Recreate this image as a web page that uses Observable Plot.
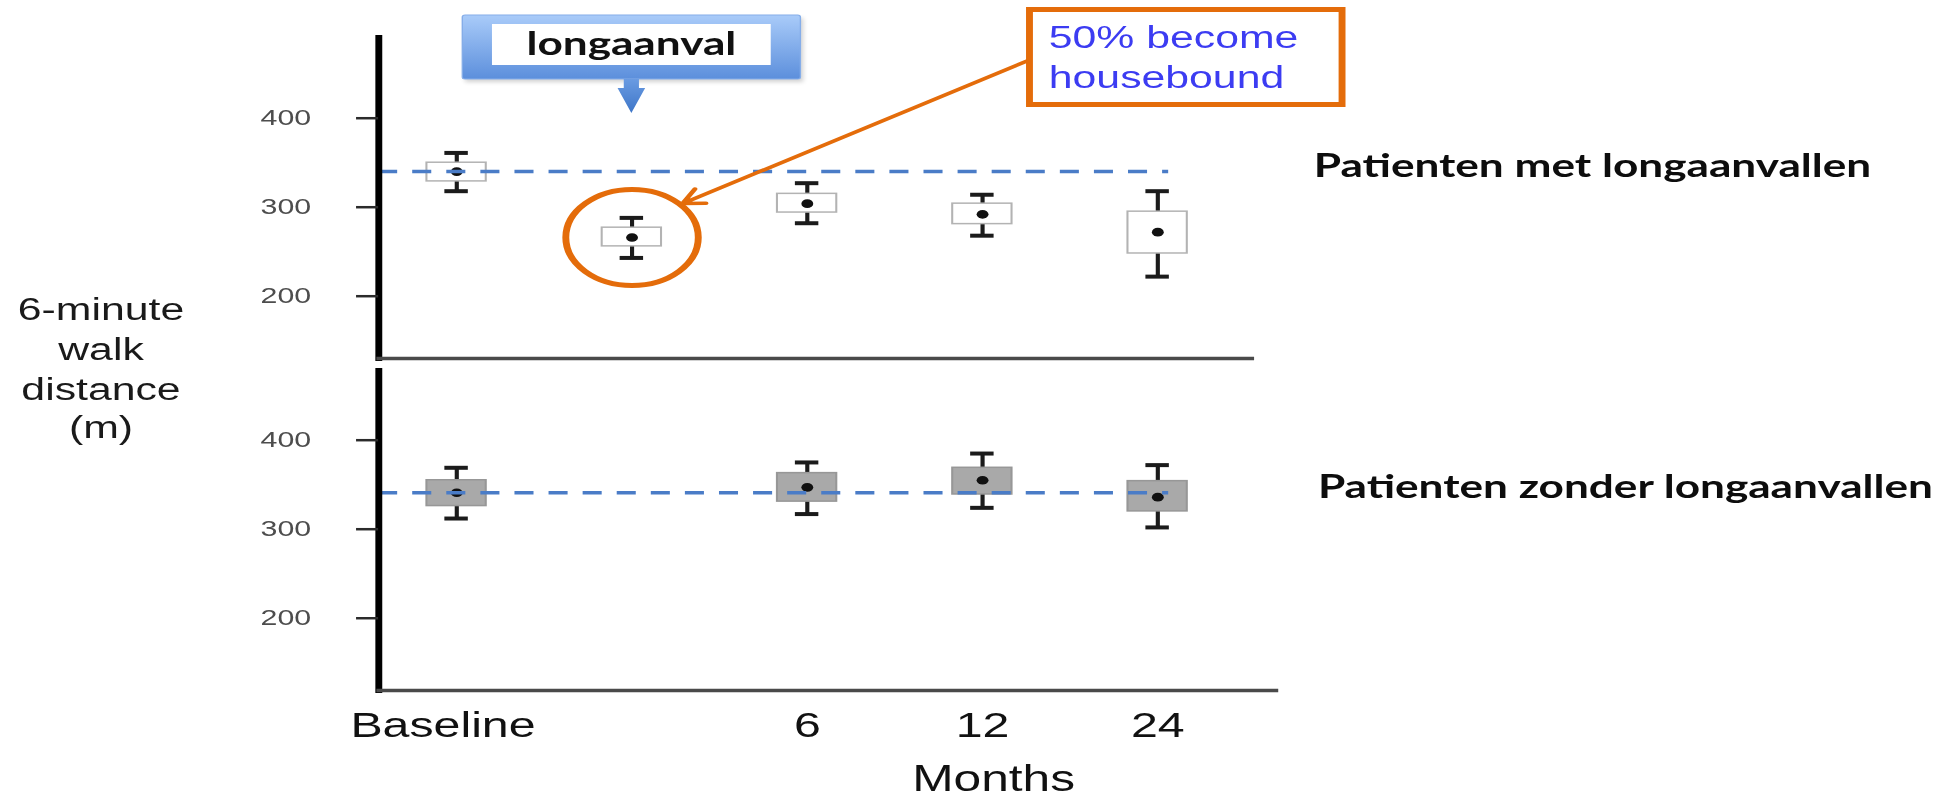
<!DOCTYPE html>
<html>
<head>
<meta charset="utf-8">
<title>6-minute walk distance</title>
<script src="https://cdn.jsdelivr.net/npm/d3@7"></script>
<script src="https://cdn.jsdelivr.net/npm/@observablehq/plot@0.6"></script>
<style>
  html, body { margin: 0; padding: 0; background: #fff; overflow: hidden; }
  /* the slide is laid out on a 1408px-wide canvas and widened to the window */
  #page { position: relative; width: 1408px; height: 797px; transform: scaleX(1.38); transform-origin: 0 0; }
  #page .layer { position: absolute; left: 0; width: 1408px; }
</style>
</head>
<body>
<div id="page"></div>
<script>
// Visits on the x axis; the slot between baseline and 6 months is the exacerbation visit.
const visits = ["Baseline", "longaanval", "6", "12", "24"];
const visitLabels = ["Baseline", "6", "12", "24"];
const yTicks = [200, 300, 400];

// Patients with exacerbations (upper panel), 6-minute walk distance in metres.
const metVisits = ["Baseline", "longaanval", "6", "12", "24"];
const metLow  = [318, 243, 282, 268, 222];
const metQ1   = [329, 256, 294, 281, 248];
const metMean = [340, 266, 304, 292, 272];
const metQ3   = [350, 277, 315, 304, 295];
const metHigh = [361, 288, 327, 314, 318];

// Patients without exacerbations (lower panel).
const zonderVisits = ["Baseline", "6", "12", "24"];
const zonderLow  = [312, 317, 324, 302];
const zonderQ1   = [326, 331, 339, 320];
const zonderMean = [341, 347, 355, 336];
const zonderQ3   = [355, 363, 369, 354];
const zonderHigh = [369, 375, 385, 372];

const panelTitles = ["Patienten met longaanvallen", "Patienten zonder longaanvallen"];
const yTitle = ["6-minute", "walk", "distance", "(m)"];
const calloutText = "longaanval";
const noteLines = ["50% become", "housebound"];
const xTitle = "Months";

// ---- layout & style ----
const W = 1408;
const AXIS_X = 274;
const FONT = "'Liberation Sans', Arial, sans-serif";
const BOLD = "Lato, 'Open Sans', sans-serif";
const ORANGE = "#e46c0a";
const DASH = "#4a7cc7";
const INK = "#1b1b1b";

const rows = (v, lo, q1, m, q3, hi) =>
  v.map((visit, i) => ({visit, low: lo[i], q1: q1[i], mean: m[i], q3: q3[i], high: hi[i]}));
const met = rows(metVisits, metLow, metQ1, metMean, metQ3, metHigh);
const zonder = rows(zonderVisits, zonderLow, zonderQ1, zonderMean, zonderQ3, zonderHigh);

const xScale = {type: "band", domain: visits, range: [AXIS_X, 894.2], paddingInner: 0.66, paddingOuter: 0.255, align: 0.5};

function boxMarks(data, boxFill, boxStroke) {
  return [
    Plot.ruleX(data, {x: "visit", y1: "low", y2: "q1", stroke: INK, strokeWidth: 3}),
    Plot.ruleX(data, {x: "visit", y1: "q3", y2: "high", stroke: INK, strokeWidth: 3}),
    Plot.tickY(data, {x: "visit", y: "low", stroke: INK, strokeWidth: 4, insetLeft: 13, insetRight: 13}),
    Plot.tickY(data, {x: "visit", y: "high", stroke: INK, strokeWidth: 4, insetLeft: 13, insetRight: 13}),
    Plot.barY(data, {x: "visit", y1: "q1", y2: "q3", fill: boxFill, stroke: boxStroke, strokeWidth: 1.5}),
    Plot.dot(data, {x: "visit", y: "mean", r: 4.3, fill: "#111", stroke: "none"})
  ];
}

function baselineRule(data, insetRight) {
  return Plot.ruleY(data.filter(d => d.visit === "Baseline"), {
    y: "mean", stroke: DASH, strokeWidth: 3.5, strokeDasharray: "13.8 10.9", insetRight
  });
}

const yAxis = () => Plot.axisY({
  ticks: yTicks, tickSize: 16, tickPadding: 33, fontSize: 22,
  fill: "#4d4d4d", stroke: "#2b2b2b", strokeWidth: 2.5, label: null
});

const xLabels = (ticks, dx) => Plot.axisX({
  ticks, tickSize: 0, tickPadding: 22, fontSize: 35, fill: "#111", label: null, dx
});

const page = document.getElementById("page");
function place(node, top) {
  const div = document.createElement("div");
  div.className = "layer";
  div.style.top = top + "px";
  div.appendChild(node);
  page.appendChild(div);
}

// ---- upper panel: with exacerbations ----
const exac = met.filter(d => d.visit === "longaanval");
const topPlot = Plot.plot({
  width: W, height: 362,
  marginTop: 37, marginBottom: 4, marginLeft: AXIS_X, marginRight: W - 906.5,
  style: {fontFamily: FONT, background: "transparent", overflow: "visible"},
  x: {...xScale, axis: null},
  y: {domain: [130, 490.7]},
  marks: [
    ...boxMarks(met, "#ffffff", "#b3b3b3"),
    baselineRule(met, 60),
    Plot.dot(exac, {x: "visit", y: "mean", r: 48, fill: "none", stroke: ORANGE, strokeWidth: 5}),
    Plot.frame({anchor: "left", stroke: "#000", strokeWidth: 5}),
    Plot.frame({anchor: "bottom", stroke: "#4a4a4a", strokeWidth: 3.5}),
    yAxis()
  ]
});
place(topPlot, 0);

// ---- lower panel: without exacerbations ----
const bottomPlot = Plot.plot({
  width: W, height: 435,
  marginTop: 8, marginBottom: 107, marginLeft: AXIS_X, marginRight: W - 924,
  style: {fontFamily: FONT, background: "transparent", overflow: "visible"},
  x: {...xScale},
  y: {domain: [118.8, 478.3]},
  marks: [
    ...boxMarks(zonder, "#a9a9a9", "#979797"),
    baselineRule(zonder, 77.5),
    Plot.frame({anchor: "left", stroke: "#000", strokeWidth: 5}),
    Plot.frame({anchor: "bottom", stroke: "#4a4a4a", strokeWidth: 3.5}),
    yAxis(),
    xLabels(visitLabels.slice(0, 1), -10),
    xLabels(visitLabels.slice(1), 0),
    Plot.text([xTitle], {x: () => "12", text: d => d, frameAnchor: "bottom", lineAnchor: "top",
      dy: 75, dx: 8, fontSize: 36, fill: "#111"})
  ]
});
place(bottomPlot, 362);

// ---- annotations ----
const sx = topPlot.scale("x"), sy = topPlot.scale("y");
const cx = sx.apply("longaanval") + sx.bandwidth / 2;
const cy = sy.apply(exac[0].mean);

const svg = d3.select(page).append("svg")
  .attr("class", "layer").attr("width", W).attr("height", 797)
  .style("top", "0px").style("overflow", "visible").style("pointer-events", "none");

const defs = svg.append("defs");
const grad = (id, a, b) => {
  const g = defs.append("linearGradient").attr("id", id).attr("x1", 0).attr("y1", 0).attr("x2", 0).attr("y2", 1);
  g.append("stop").attr("offset", "0%").attr("stop-color", a);
  g.append("stop").attr("offset", "100%").attr("stop-color", b);
};
grad("calloutFill", "#a9cbf9", "#5c8fdc");
grad("arrowFill", "#6a9be2", "#3e76c8");
defs.append("filter").attr("id", "shadow").attr("x", "-10%").attr("y", "-20%").attr("width", "120%").attr("height", "150%")
  .append("feGaussianBlur").attr("stdDeviation", 2);

// callout box marking the exacerbation visit
const bw = 245, bh = 64, by = 15;
svg.append("rect").attr("x", cx - bw / 2 + 2).attr("y", by + 3).attr("width", bw).attr("height", bh)
  .attr("fill", "#000").attr("opacity", 0.18).attr("filter", "url(#shadow)");
svg.append("rect").attr("x", cx - bw / 2).attr("y", by).attr("width", bw).attr("height", bh).attr("rx", 2)
  .attr("fill", "url(#calloutFill)").attr("stroke", "#86aee9").attr("stroke-width", 1);
svg.append("rect").attr("x", cx - 101).attr("y", 24).attr("width", 202).attr("height", 41).attr("fill", "#fff");
svg.append("text").attr("x", cx).attr("y", 55).attr("text-anchor", "middle")
  .attr("font-family", BOLD).attr("font-weight", 700).attr("font-size", 32).attr("fill", "#111")
  .text(calloutText);
svg.append("path")
  .attr("d", `M${cx - 5.5},79 V88 H${cx - 10} L${cx},113 L${cx + 10},88 H${cx + 5.5} V79 Z`)
  .attr("fill", "url(#arrowFill)");

// note box and arrow pointing at the circled exacerbation visit
const note = {x: 746, y: 9.5, w: 226.5, h: 95};
const start = [note.x, 60];
const ang0 = -42 * Math.PI / 180;
const tip = [cx + 50 * Math.cos(ang0), cy + 50 * Math.sin(ang0)];
const back = Math.atan2(start[1] - tip[1], start[0] - tip[0]);
const wing = (s) => [tip[0] + 17 * Math.cos(back + s), tip[1] + 17 * Math.sin(back + s)];
const w1 = wing(0.5), w2 = wing(-0.5);
svg.append("path")
  .attr("d", `M${start[0]},${start[1]} L${tip[0]},${tip[1]} M${w1[0]},${w1[1]} L${tip[0]},${tip[1]} L${w2[0]},${w2[1]}`)
  .attr("fill", "none").attr("stroke", ORANGE).attr("stroke-width", 3.5).attr("stroke-linecap", "round").attr("stroke-linejoin", "round");
svg.append("rect").attr("x", note.x).attr("y", note.y).attr("width", note.w).attr("height", note.h)
  .attr("fill", "#fff").attr("stroke", ORANGE).attr("stroke-width", 5);
svg.selectAll("text.note").data(noteLines).join("text").attr("class", "note")
  .attr("x", note.x + 14).attr("y", (d, i) => 48.3 + i * 40)
  .attr("font-family", FONT).attr("font-size", 31).attr("fill", "#3c3cf2")
  .text(d => d);

// panel titles on the right
svg.selectAll("text.panel").data(panelTitles).join("text").attr("class", "panel")
  .attr("x", (d, i) => [952, 955][i]).attr("y", (d, i) => [177, 498][i])
  .attr("font-family", BOLD).attr("font-weight", 700).attr("font-size", 32).attr("fill", "#0d0d0d")
  .text(d => d);

// shared y-axis title between the panels
svg.selectAll("text.ytitle").data(yTitle).join("text").attr("class", "ytitle")
  .attr("x", 73.2).attr("y", (d, i) => [320, 360, 400, 438][i]).attr("text-anchor", "middle")
  .attr("font-family", FONT).attr("font-size", 31).attr("fill", "#1a1a1a")
  .text(d => d);
</script>
</body>
</html>
